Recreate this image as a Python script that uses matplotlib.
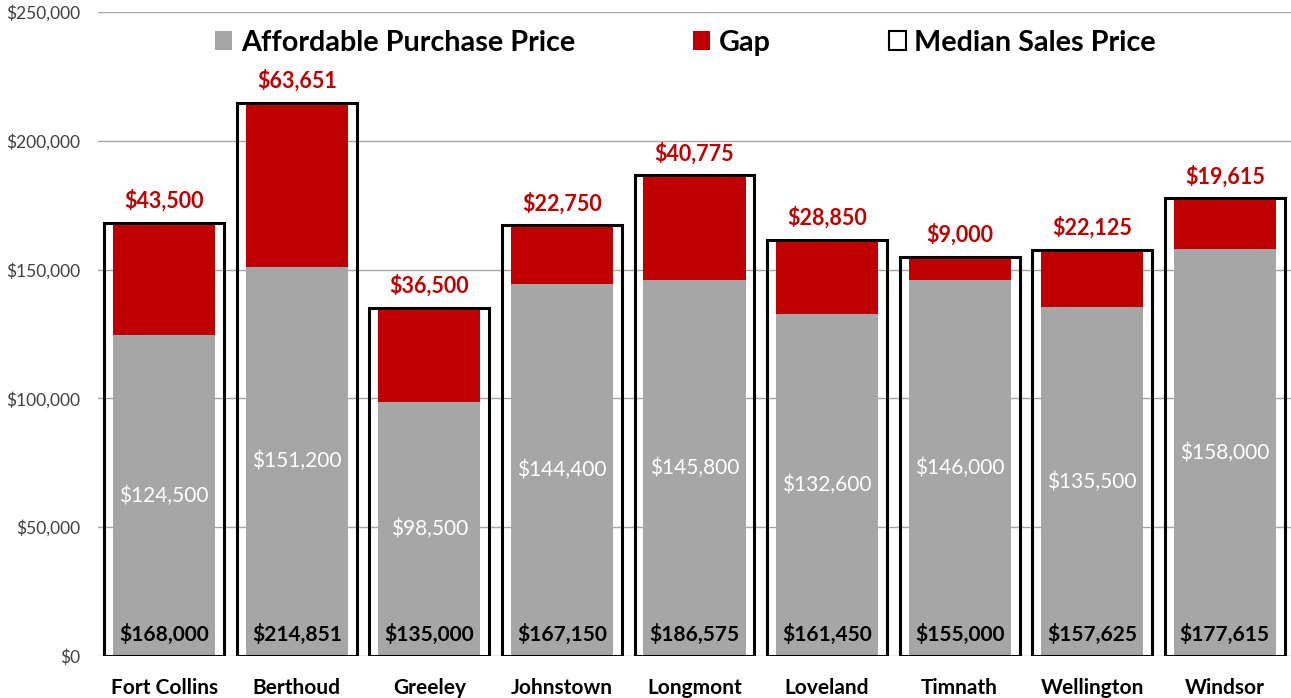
import matplotlib
matplotlib.use("Agg")
import matplotlib.pyplot as plt
from matplotlib.patches import Patch
from matplotlib.ticker import FuncFormatter

categories = ["Fort Collins", "Berthoud", "Greeley", "Johnstown", "Longmont",
              "Loveland", "Timnath", "Wellington", "Windsor"]
affordable = [124500, 151200, 98500, 144400, 145800, 132600, 146000, 135500, 158000]
gap = [43500, 63651, 36500, 22750, 40775, 28850, 9000, 22125, 19615]
median = [168000, 214851, 135000, 167150, 186575, 161450, 155000, 157625, 177615]

GRAY = "#A6A6A6"
RED = "#C00000"
FONT = ["Lato", "DejaVu Sans"]
plt.rcParams["font.family"] = FONT

fig = plt.figure(figsize=(12.91, 6.98), dpi=100)
ax = fig.add_axes([0.0759, 0.0602, 0.9241, 0.9226])

x = list(range(len(categories)))
ax.bar(x, affordable, width=0.77, color=GRAY, zorder=2)
ax.bar(x, gap, width=0.77, bottom=affordable, color=RED, zorder=2)
ax.bar(x, median, width=0.905, facecolor="none", edgecolor="black",
       linewidth=2.2, zorder=3)

for i in x:
    ax.annotate(f"${gap[i]:,}", (i, median[i]), xytext=(0, 8),
                textcoords="offset points", ha="center", va="bottom",
                color=RED, fontsize=15.5, fontweight="bold")
    ax.text(i, affordable[i] / 2, f"${affordable[i]:,}", ha="center",
            va="center", color="white", fontsize=15)
    ax.text(i, 8500, f"${median[i]:,}", ha="center", va="center",
            color="black", fontsize=15, fontweight="bold")

ax.set_xlim(-0.5, len(categories) - 0.5)
ax.set_ylim(0, 250000)
ax.set_yticks(range(0, 250001, 50000))
ax.yaxis.set_major_formatter(FuncFormatter(lambda v, p: f"${int(v):,}"))
ax.set_xticks(x)
ax.set_xticklabels(categories, fontsize=15, fontweight="bold")
ax.tick_params(axis="y", length=0, labelsize=12.5, labelcolor="#404040", pad=13)
ax.tick_params(axis="x", length=0, pad=16)
ax.grid(axis="y", color="#A6A6A6", linewidth=1, zorder=0)
ax.set_axisbelow(True)
for s in ax.spines.values():
    s.set_visible(False)

handles = [Patch(facecolor=GRAY, edgecolor="none"),
           Patch(facecolor=RED, edgecolor="none"),
           Patch(facecolor="white", edgecolor="black", linewidth=1.5)]
leg = fig.legend(handles, ["Affordable Purchase Price", "Gap", "Median Sales Price"],
                 loc="center", bbox_to_anchor=(0.531, 0.939), ncol=3, frameon=False,
                 prop={"family": FONT, "weight": "bold", "size": 20.7},
                 handlelength=0.6, handleheight=0.6, handletextpad=0.3,
                 columnspacing=4.1)

fig.savefig("out.png", dpi=100)
